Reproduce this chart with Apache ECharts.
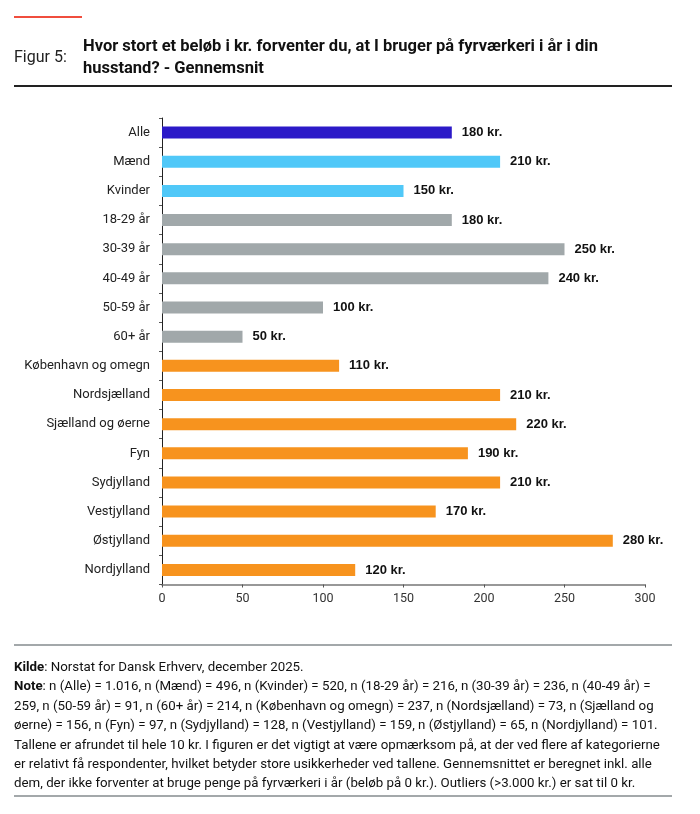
<!DOCTYPE html>
<html>
<head>
<meta charset="utf-8">
<script src="https://cdn.jsdelivr.net/npm/echarts@6/dist/echarts.min.js"></script>
<style>
  html, body { margin:0; padding:0; background:#fff; }
  body { width:700px; height:814px; position:relative; overflow:hidden; font-family:"Roboto","Liberation Sans",sans-serif; color:#111; }
  #chart { position:absolute; left:0; top:0; width:700px; height:814px; }
  .redline { position:absolute; left:14px; top:16px; width:68px; height:2px; background:#f04e3e; }
  .fig { position:absolute; left:14px; top:47px; font-size:16px; color:#222; }
  .title { position:absolute; left:83px; top:35px; width:560px; font-size:16.5px; font-weight:bold; line-height:22px; color:#111; }
  .blackline { position:absolute; left:14px; top:85px; width:658px; height:2px; background:#222; }
  .grayline { position:absolute; left:14px; width:658px; height:2px; background:#a3a8aa; }
  .foot { position:absolute; left:14px; top:657px; width:660px; font-size:13.3px; line-height:19.4px; color:#111; }
</style>
</head>
<body>
<div id="chart"></div>
<div class="redline"></div>
<div class="fig">Figur 5:</div>
<div class="title">Hvor stort et beløb i kr. forventer du, at I bruger på fyrværkeri i år i din husstand? - Gennemsnit</div>
<div class="blackline"></div>
<div class="grayline" style="top:644px"></div>
<div class="foot"><b>Kilde</b>: Norstat for Dansk Erhverv, december 2025.<br><b>Note</b>: n (Alle) = 1.016, n (Mænd) = 496, n (Kvinder) = 520, n (18-29 år) = 216, n (30-39 år) = 236, n (40-49 år) = 259, n (50-59 år) = 91, n (60+ år) = 214, n (København og omegn) = 237, n (Nordsjælland) = 73, n (Sjælland og øerne) = 156, n (Fyn) = 97, n (Sydjylland) = 128, n (Vestjylland) = 159, n (Østjylland) = 65, n (Nordjylland) = 101. Tallene er afrundet til hele 10 kr. I figuren er det vigtigt at være opmærksom på, at der ved flere af kategorierne er relativt få respondenter, hvilket betyder store usikkerheder ved tallene. Gennemsnittet er beregnet inkl. alle dem, der ikke forventer at bruge penge på fyrværkeri i år (beløb på 0 kr.). Outliers (&gt;3.000 kr.) er sat til 0 kr.</div>
<div class="grayline" style="top:795px"></div>
<script>
const categories = ["Alle","Mænd","Kvinder","18-29 år","30-39 år","40-49 år","50-59 år","60+ år","København og omegn","Nordsjælland","Sjælland og øerne","Fyn","Sydjylland","Vestjylland","Østjylland","Nordjylland"];
const values = [180,210,150,180,250,240,100,50,110,210,220,190,210,170,280,120];
const groups = ["total","gender","gender","age","age","age","age","age","region","region","region","region","region","region","region","region"];
const groupColors = { total:"#2c1ac8", gender:"#50c8f8", age:"#a1a8aa", region:"#f7931e" };
const xTicks = [0,50,100,150,200,250,300];

const chart = echarts.init(document.getElementById('chart'), null, {renderer:'canvas'});
chart.setOption({
  animation:false,
  grid:{ left:162, right:55, top:118, bottom:229.5, containLabel:false },
  xAxis:{
    type:'value', min:xTicks[0], max:xTicks[xTicks.length-1], interval:50,
    axisLine:{ show:true, lineStyle:{ color:'#777', width:1.5 } },
    axisTick:{ show:true, length:3, lineStyle:{ color:'#555' } },
    splitLine:{ show:false },
    axisLabel:{ color:'#333', fontSize:12.5, margin:8, fontFamily:'Roboto, Liberation Sans, sans-serif' }
  },
  yAxis:{
    type:'category', data:categories, inverse:true,
    axisLine:{ show:true, lineStyle:{ color:'#222', width:1 } },
    axisTick:{ show:true, length:3, lineStyle:{ color:'#555' } },
    axisLabel:{ color:'#222', fontSize:13, margin:12, fontFamily:'Roboto, Liberation Sans, sans-serif' }
  },
  series:[{
    type:'bar', barWidth:12,
    data: values.map((v,i)=>({ value:v, itemStyle:{ color: groupColors[groups[i]] } })),
    label:{ show:true, position:'right', distance:10, formatter:p=>p.value+' kr.', color:'#111', fontWeight:'bold', fontSize:13, fontFamily:'Liberation Sans, sans-serif' }
  }]
});
</script>
</body>
</html>
